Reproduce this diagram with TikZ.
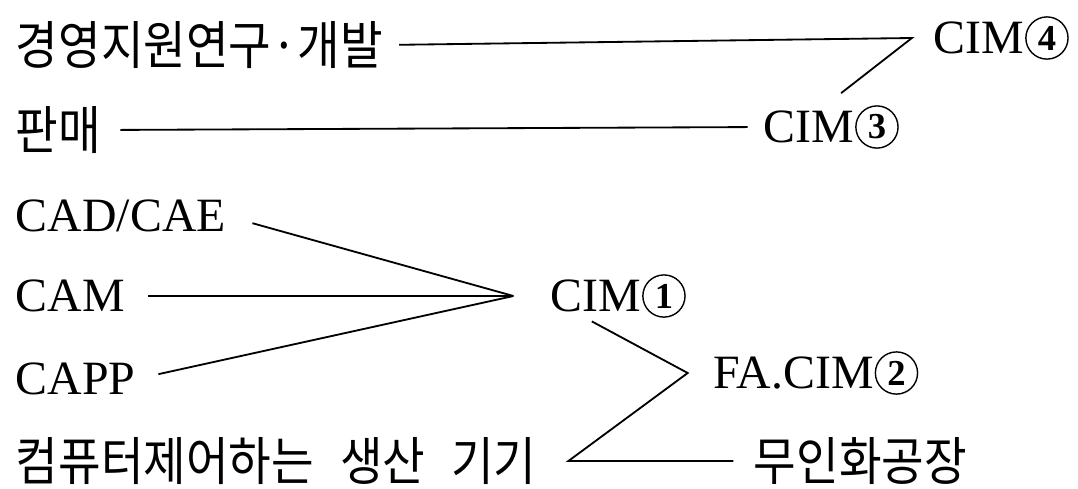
\documentclass[tikz,border=0pt]{standalone}
\usepackage{fontspec}
\setmainfont{Liberation Serif}
\newfontfamily\kr[FakeStretch=0.89]{Noto Sans CJK KR}
\newcommand{\krfont}{\kr\fontsize{37}{37}\selectfont\spaceskip=0.5em\relax}
\usetikzlibrary{positioning}

\begin{document}
\begin{tikzpicture}[x=0.025cm, y=-0.025cm, line width=1.3pt,
    latin/.style={anchor=west, inner sep=0pt, font=\fontsize{34}{34}\selectfont},
    hangul/.style={anchor=west, inner sep=0pt, font=\krfont},
    numcirc/.style={circle, draw, line width=1pt, inner sep=0pt, minimum size=30pt,
      font=\fontsize{26}{26}\selectfont\bfseries}]
            \useasboundingbox (0,0) rectangle (1078,488);

            % left column
            \node[hangul] (mgmt) at (15,45) {경영지원연구·개발};
            \node[hangul] (sales) at (15,130) {판매};
            \node[latin] (cadcae) at (15,216) {CAD/CAE};
            \node[latin] (cam) at (15,296) {CAM};
            \node[latin] (capp) at (15,379) {CAPP};
            \node[hangul] (ctrl) at (15,461) {컴퓨터제어하는 생산 기기};

            % right side
            \node[latin] (cim4) at (933,38) {CIM};
            \node[numcirc, right=0pt of cim4] (cim4n) {4};
            \node[latin] (cim3) at (763,127) {CIM};
            \node[numcirc, right=0pt of cim3] (cim3n) {3};
            \node[latin] (cim1) at (550,296) {CIM};
            \node[numcirc, right=0pt of cim1] (cim1n) {1};
            \node[latin] (fa) at (713,373) {FA.CIM};
            \node[numcirc, right=0pt of fa] (fan) {2};
            \node[hangul] (unmanned) at (753,461) {무인화공장};

            % junctions
            \coordinate (j4) at ([xshift=-15pt]cim4.west);
            \coordinate (t3) at ([shift={(-10pt,12pt)}]cim3.north east);
            \coordinate (j1) at ([xshift=-26pt]cim1.west);
            \coordinate (s1) at ([shift={(-3pt,-6pt)}]cim1.south);
            \coordinate (j2) at ([xshift=-18pt]fa.west);
            \coordinate (jc) at ([xshift=22pt]ctrl.east);

            \draw[shorten <=11pt] (mgmt.east) -- (j4) -- (t3);
            \draw[shorten <=13pt, shorten >=11pt] (sales.east) -- (cim3.west);

            \draw[shorten <=19pt] (cadcae.east) -- (j1);
            \draw[shorten <=16pt] (cam.east) -- (j1);
            \draw[shorten <=16pt] (capp.east) -- (j1);

            \draw[shorten >=14pt] (s1) -- (j2) -- (jc) -- (unmanned.west);
        \end{tikzpicture}
\end{document}
